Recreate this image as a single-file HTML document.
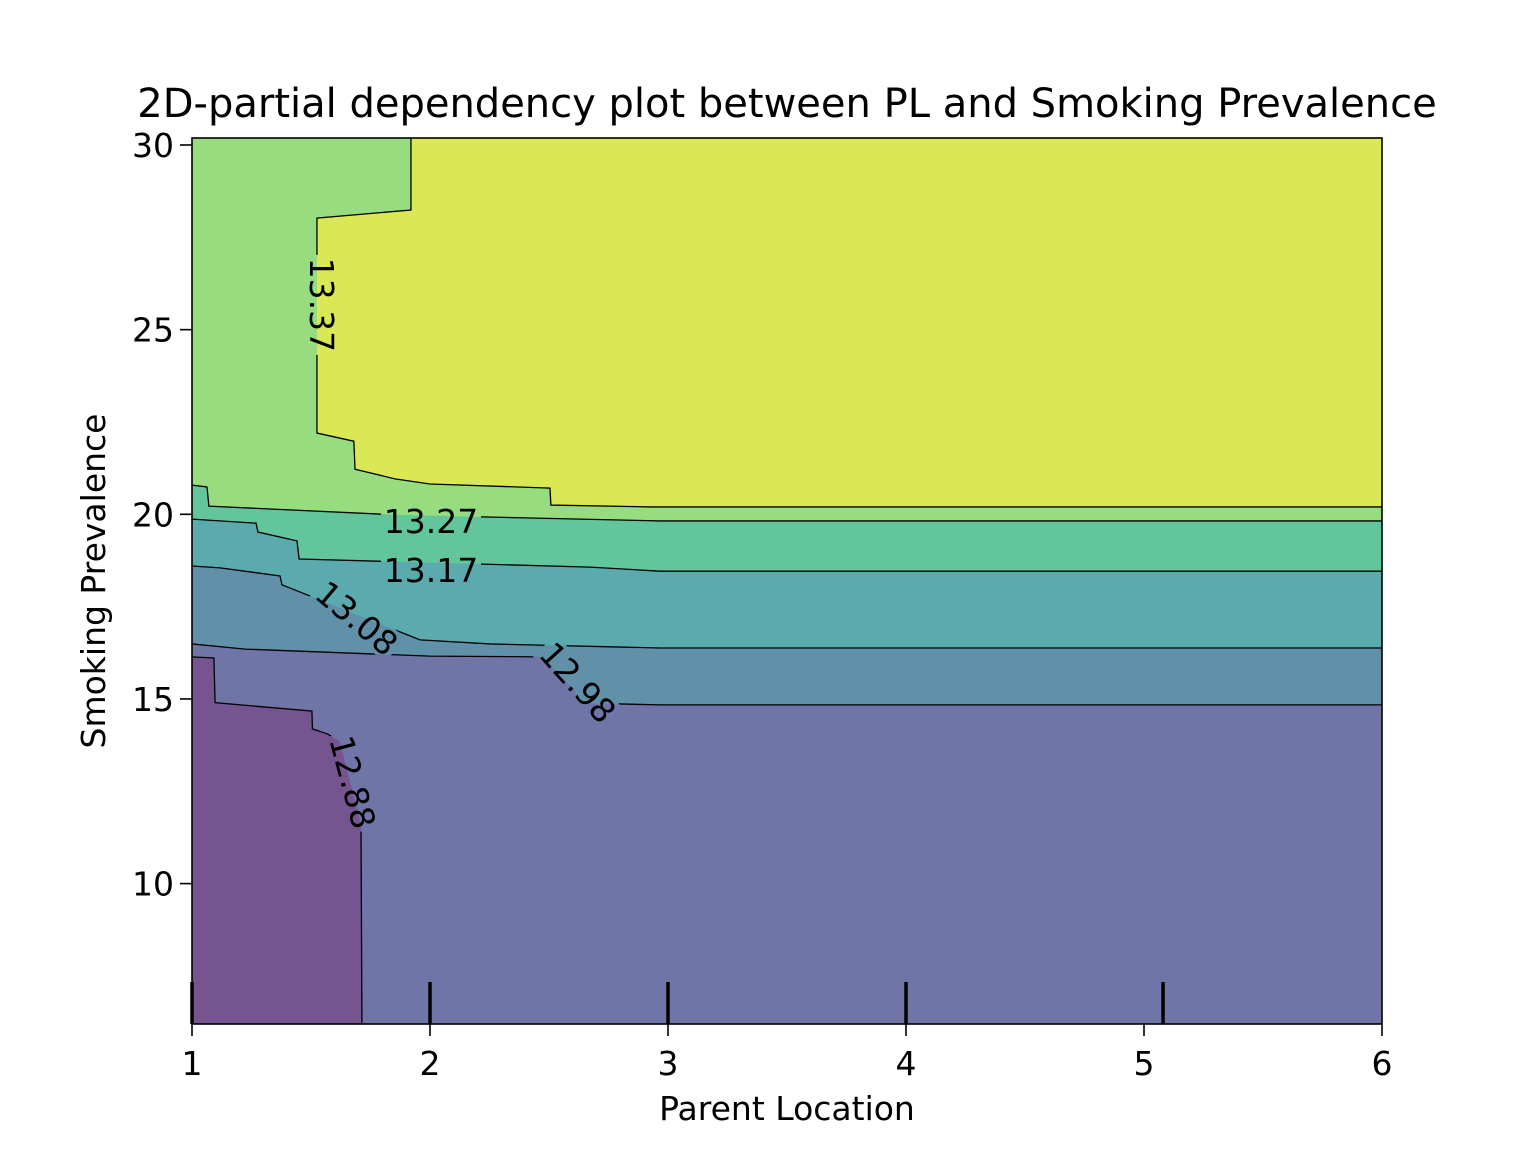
<!DOCTYPE html>
<html><head><meta charset="utf-8"><style>
body{margin:0;background:#fff}
svg text{font-family:"DejaVu Sans","Liberation Sans",sans-serif}
</style></head><body>
<svg id="chart" width="1536" height="1152" xmlns="http://www.w3.org/2000/svg">
<rect width="1536" height="1152" fill="#fff"/>
<defs><mask id="lblmask" maskUnits="userSpaceOnUse" x="0" y="0" width="1536" height="1152"><rect width="1536" height="1152" fill="#fff"/><g id="maskg"></g></mask></defs>
<g id="plot"></g>
</svg>
<script>
const xTicks=[1,2,3,4,5,6];
const yTicks=[10,15,20,25,30];
const rugX=[1,2,3,4,5.08];
const levels=[12.88,12.98,13.08,13.17,13.27,13.37];
const fillColors=["#765490","#6f75a7","#6190a9","#5aaaae","#63c59c","#97dc7f","#dbe855"];
const line1288=[[1,16.14],[1.092,16.11],[1.097,14.9],[1.504,14.67],[1.506,14.19],[1.57,14.05],[1.62,13.85],[1.71,11.6],[1.714,6.2]];
const line1298=[[1,16.49],[1.223,16.35],[2.0,16.16],[2.462,16.14],[2.609,15.24],[2.618,14.89],[2.966,14.84],[6,14.84]];
const line1308=[[1,18.6],[1.118,18.55],[1.37,18.33],[1.378,18.09],[1.958,16.6],[2.252,16.49],[2.966,16.38],[6,16.38]];
const line1317=[[1,19.87],[1.269,19.76],[1.277,19.52],[1.441,19.28],[1.45,18.79],[2.672,18.57],[2.966,18.46],[6,18.46]];
const line1327=[[1,20.79],[1.063,20.74],[1.071,20.22],[1.874,19.98],[2.966,19.82],[6,19.82]];
const line1337=[[1.92,30.19],[1.92,28.24],[1.525,28.02],[1.525,22.2],[1.68,21.98],[1.685,21.22],[1.853,20.96],[2.0,20.82],[2.504,20.71],[2.508,20.25],[2.924,20.2],[6,20.2]];
const labelPos=[[1.676,12.75,75],[2.622,15.45,48],[1.693,17.19,40],[2.004,18.49,0],[2.004,19.82,0],[1.546,25.67,90]];

const X0=192,X1=1382,Y0=138,Y1=1024;
const xmin=1,xmax=6,ymin=6.2,ymax=30.19;
const sx=v=>X0+(v-xmin)/(xmax-xmin)*(X1-X0);
const sy=v=>145+(30-v)*36.93;
const g=document.getElementById('plot');
const mg=document.getElementById('maskg');
const NS="http://www.w3.org/2000/svg";
function mk(t,a,p){const e=document.createElementNS(NS,t);for(const k in a)e.setAttribute(k,a[k]);(p||g).appendChild(e);return e;}
const pts=l=>l.map(p=>sx(p[0])+','+sy(p[1])).join(' ');

let bg=mk('rect',{x:X0,y:Y0,width:X1-X0,height:Y1-Y0,fill:fillColors[1]});


let pp=mk('polygon',{points:pts(line1288.concat([[1,ymin]])),fill:fillColors[0]});


const upper=[line1298,line1308,line1317,line1327];
upper.forEach((l,i)=>{
  const poly=l.concat([[6,ymax],[1,ymax]]);
  const e=mk('polygon',{points:pts(poly),fill:fillColors[i+2]});
  
  
});
let yel=mk('polygon',{points:pts(line1337.concat([[6,ymax]])),fill:fillColors[6]});


labelPos.forEach(p=>{
  const gg=mk('g',{transform:`translate(${sx(p[0])},${sy(p[1])}) rotate(${p[2]})`},mg);
  mk('rect',{x:-50,y:-16,width:100,height:32,fill:'#000'},gg);
});
const lg=mk('g',{mask:'url(#lblmask)'});
const allLines=[line1288,line1298,line1308,line1317,line1327,line1337];
allLines.forEach((l,i)=>{
  const e=mk('polyline',{points:pts(l),fill:'none',stroke:'#000','stroke-width':1.3},lg);
  
  
});
labelPos.forEach((p,i)=>{
  const gg=mk('g',{transform:`translate(${sx(p[0])},${sy(p[1])}) rotate(${p[2]})`});
  const t=mk('text',{x:0,y:12,'text-anchor':'middle','font-size':33,fill:'#000'},gg);
  t.textContent=levels[i].toFixed(2);
  
  
});
rugX.forEach(v=>{
  const e=mk('line',{x1:sx(v),x2:sx(v),y1:982,y2:Y1,stroke:'#000','stroke-width':3.5});
  
  
});
let fr=mk('rect',{x:X0,y:Y0,width:X1-X0,height:Y1-Y0,fill:'none',stroke:'#000','stroke-width':1.6});


xTicks.forEach(v=>{
  mk('line',{x1:sx(v),x2:sx(v),y1:Y1,y2:Y1+12,stroke:'#000','stroke-width':1.6});
  const t=mk('text',{x:sx(v),y:1075,'text-anchor':'middle','font-size':33});
  t.textContent=v;
  
  
});
yTicks.forEach(v=>{
  mk('line',{x1:X0-12,x2:X0,y1:sy(v),y2:sy(v),stroke:'#000','stroke-width':1.6});
  const t=mk('text',{x:X0-18,y:sy(v)+12,'text-anchor':'end','font-size':33});
  t.textContent=v;
  
  
});
let xt=mk('text',{x:787,y:1120,'text-anchor':'middle','font-size':33});
xt.textContent='Parent Location';


let yt=mk('text',{x:0,y:0,'text-anchor':'middle','font-size':33,transform:'translate(105,581) rotate(-90)'});
yt.textContent='Smoking Prevalence';


let tt=mk('text',{x:787,y:117,'text-anchor':'middle','font-size':40});
tt.textContent='2D-partial dependency plot between PL and Smoking Prevalence';


</script>
</body></html>
